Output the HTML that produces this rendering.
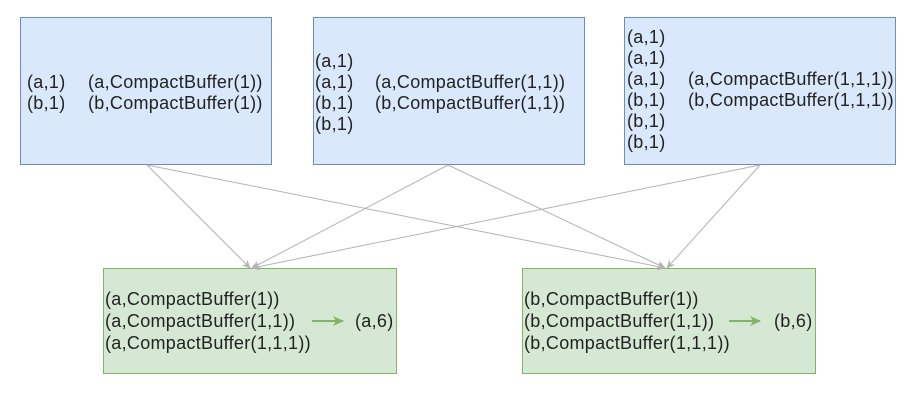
<!DOCTYPE html>
<html><head><style>
body{margin:0;background:#fff;}
svg text{font-family:"Liberation Sans",Arial,sans-serif;font-size:18px;letter-spacing:0.3px;fill:#222;}
</style></head><body>
<svg width="919" height="408" xmlns="http://www.w3.org/2000/svg">
<defs><marker id="ah" markerWidth="10" markerHeight="10" refX="8" refY="5" orient="auto" markerUnits="userSpaceOnUse"><path d="M0,1 L9,5 L0,9 L3,5 Z" fill="#b3b3b3"/></marker>
<marker id="gh" markerWidth="12" markerHeight="12" refX="10" refY="6" orient="auto" markerUnits="userSpaceOnUse"><path d="M0,1 L11,6 L0,11 L3,6 Z" fill="#82b366"/></marker></defs>
<rect x="20.5" y="17.5" width="251" height="147" fill="#dae8fc" stroke="#6c8ebf"/>
<rect x="313.5" y="17.5" width="271" height="147" fill="#dae8fc" stroke="#6c8ebf"/>
<rect x="624.5" y="17.5" width="271" height="147" fill="#dae8fc" stroke="#6c8ebf"/>
<rect x="103.5" y="268.5" width="293" height="105" fill="#d5e8d4" stroke="#82b366"/>
<rect x="522.5" y="268.5" width="293" height="105" fill="#d5e8d4" stroke="#82b366"/>
<g stroke="#b3b3b3" stroke-width="1" fill="none">
<line x1="147" y1="165" x2="250" y2="268" marker-end="url(#ah)"/>
<line x1="147" y1="165" x2="665" y2="268" marker-end="url(#ah)"/>
<line x1="448" y1="165" x2="252" y2="268" marker-end="url(#ah)"/>
<line x1="448" y1="165" x2="665" y2="268" marker-end="url(#ah)"/>
<line x1="760" y1="165" x2="252" y2="268" marker-end="url(#ah)"/>
<line x1="760" y1="165" x2="667" y2="268" marker-end="url(#ah)"/>
</g>
<text x="27" y="88">(a,1)</text><text x="88" y="88">(a,CompactBuffer(1))</text>
<text x="27" y="109">(b,1)</text><text x="88" y="109">(b,CompactBuffer(1))</text>
<text x="315" y="67">(a,1)</text>
<text x="315" y="88">(a,1)</text><text x="375" y="88">(a,CompactBuffer(1,1))</text>
<text x="315" y="109">(b,1)</text><text x="375" y="109">(b,CompactBuffer(1,1))</text>
<text x="315" y="130">(b,1)</text>
<text x="627" y="43">(a,1)</text>
<text x="627" y="64">(a,1)</text>
<text x="627" y="85">(a,1)</text><text x="688" y="85">(a,CompactBuffer(1,1,1))</text>
<text x="627" y="106">(b,1)</text><text x="688" y="106">(b,CompactBuffer(1,1,1))</text>
<text x="627" y="127">(b,1)</text>
<text x="627" y="148">(b,1)</text>
<text x="105" y="305">(a,CompactBuffer(1))</text>
<text x="105" y="327">(a,CompactBuffer(1,1))</text>
<text x="105" y="349">(a,CompactBuffer(1,1,1))</text>
<text x="355" y="327">(a,6)</text>
<text x="524" y="305">(b,CompactBuffer(1))</text>
<text x="524" y="327">(b,CompactBuffer(1,1))</text>
<text x="524" y="349">(b,CompactBuffer(1,1,1))</text>
<text x="774" y="327">(b,6)</text>
<line x1="312" y1="321" x2="343" y2="321" stroke="#82b366" stroke-width="2" marker-end="url(#gh)"/>
<line x1="729" y1="321" x2="760" y2="321" stroke="#82b366" stroke-width="2" marker-end="url(#gh)"/>
</svg>
</body></html>
